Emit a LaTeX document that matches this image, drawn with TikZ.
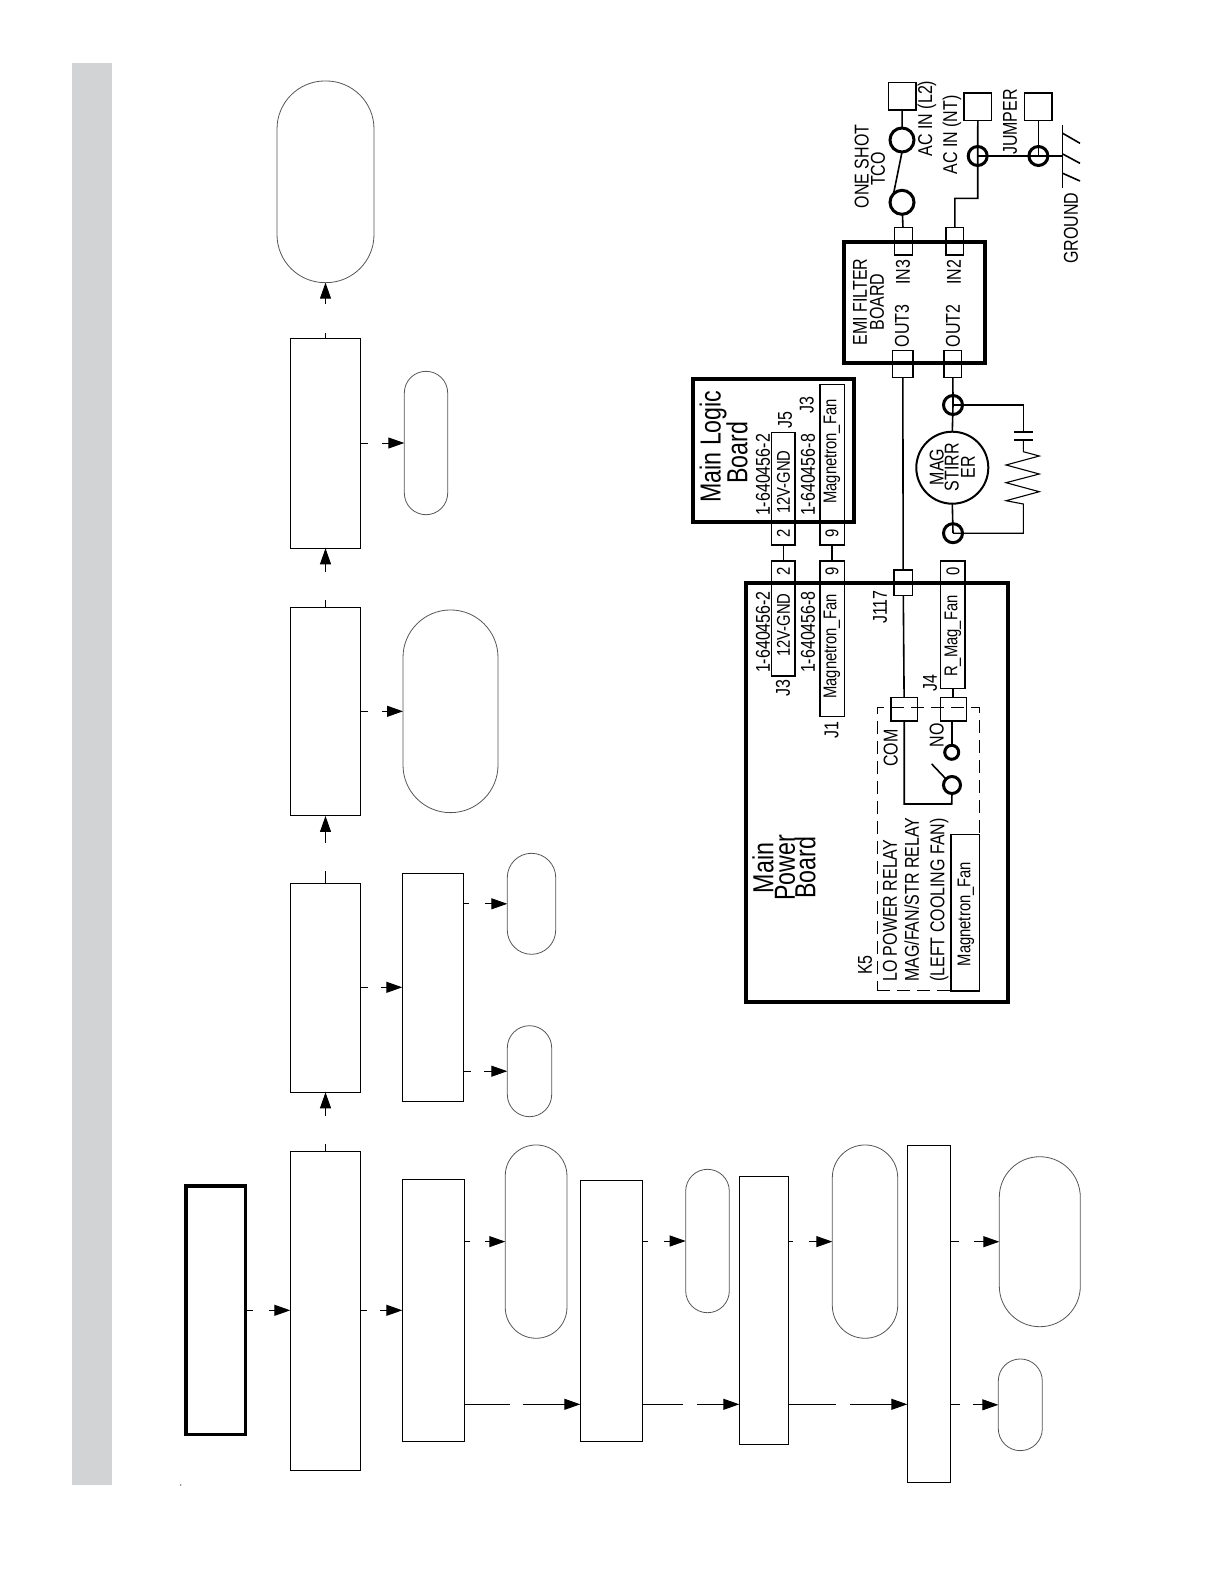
\documentclass[tikz,border=0pt]{standalone}
\usepackage{fontspec}
\setmainfont{Liberation Sans}[FakeStretch=0.8]
\usetikzlibrary{arrows.meta}
\definecolor{bandgray}{HTML}{D1D3D4}
\definecolor{capgray}{HTML}{555555}
\tikzset{
  blockbox/.style={draw,line width=1pt,inner sep=0,outer sep=0},
  capsule/.style={draw=capgray,line width=.8pt,inner sep=0,outer sep=0,rounded corners=#1pt},
  flowarrow/.style={line width=1pt,-{Triangle[length=16pt,width=11pt]}},
  gapped/.style 2 args={dash pattern=on #1pt off #2pt on 400pt},
  board/.style={draw,line width=4pt,inner sep=0,outer sep=0},
  pinbox/.style={draw,line width=1.3pt,inner sep=0,outer sep=0},
  terminal/.style={draw,line width=1.5pt,inner sep=0,outer sep=0,minimum width=27.5pt,minimum height=27.5pt},
  ring/.style={draw,circle,line width=3pt,inner sep=0,outer sep=0,minimum size=#1pt},
  wire/.style={line width=1.6pt},
  lbl/.style={rotate=90,inner sep=0,font=\fontsize{20}{20}\selectfont},
  midlbl/.style={rotate=90,inner sep=0,font=\fontsize{18.5}{18.5}\selectfont},
  biglbl/.style={rotate=90,inner sep=0,font=\fontsize{29}{29}\selectfont}
}
\begin{document}
\begin{tikzpicture}[x=1pt,y=-1pt]
    \useasboundingbox (0,0) rectangle (1224,1584);

    % Side band
    \fill[bandgray] (72,63) rectangle (112,1485);
    \fill (180.7,1485) circle (.6);

    % Flow boxes
    \node[blockbox,line width=3.5pt,minimum width=59.3pt,minimum height=248.7pt] (startbox) at (215.6,1310.3) {};
    \node[blockbox,minimum width=70.4pt,minimum height=319pt] (boxA) at (325.5,1310.8) {};
    \node[blockbox,minimum width=70.4pt,minimum height=209pt] (boxF) at (325.5,987.8) {};
    \node[blockbox,minimum width=70.4pt,minimum height=208.7pt] (boxG) at (325.5,711.6) {};
    \node[blockbox,minimum width=70.4pt,minimum height=210pt] (boxH) at (325.5,443.3) {};
    \node[blockbox,minimum width=61.4pt,minimum height=228pt] (boxC) at (433,987.3) {};
    \node[blockbox,minimum width=62.4pt,minimum height=262pt] (boxB) at (433.5,1310.3) {};
    \node[blockbox,minimum width=62.2pt,minimum height=261pt] (boxJ) at (611.4,1310.8) {};
    \node[blockbox,minimum width=49.4pt,minimum height=268pt] (boxD) at (764,1310.3) {};
    \node[blockbox,minimum width=43pt,minimum height=337pt] (boxE) at (928.8,1313.8) {};

    % Flow end capsules
    \node[capsule=48,minimum width=97pt,minimum height=201.7pt] (capTop) at (325.5,181.8) {};
    \node[capsule=21.7,minimum width=43.4pt,minimum height=143.4pt] (capH) at (426,443) {};
    \node[capsule=47.5,minimum width=95pt,minimum height=202.7pt] (capG) at (450.5,711.3) {};
    \node[capsule=24.2,minimum width=48.4pt,minimum height=101pt] (capC) at (531.5,903.8) {};
    \node[capsule=22.2,minimum width=44.4pt,minimum height=91pt] (capK) at (529.5,1071.2) {};
    \node[capsule=30.8,minimum width=61.7pt,minimum height=193.3pt] (capB) at (536.1,1241.6) {};
    \node[capsule=21.8,minimum width=43.6pt,minimum height=143.4pt] (capJ) at (707.5,1241) {};
    \node[capsule=32.7,minimum width=65.4pt,minimum height=193.3pt] (capD) at (865,1241.6) {};
    \node[capsule=40.5,minimum width=81pt,minimum height=170pt] (capE) at (1039.8,1241.7) {};
    \node[capsule=22,minimum width=44pt,minimum height=91.7pt] (capL) at (1020.3,1404.8) {};
    \coordinate (lowrow) at (0,1404.3);

    % Flow arrows
    \draw[flowarrow,gapped={7.4}{16.3}] (startbox.east) -- (startbox.east -| boxA.west);
    \draw[flowarrow,gapped={6}{13.3}] (boxA.east |- boxB.west) -- (boxB.west);
    \draw[flowarrow,gapped={7}{28.3}] (boxA.north) -- (boxF.south);
    \draw[flowarrow,gapped={12.6}{28}] (boxF.north) -- (boxG.south);
    \draw[flowarrow,gapped={7}{28}] (boxG.north) -- (boxH.south);
    \draw[flowarrow,gapped={5.6}{28.7}] (boxH.north) -- (capTop.south);
    \draw[flowarrow,gapped={7.3}{14.3}] (boxH.east |- capH.west) -- (capH.west);
    \draw[flowarrow,gapped={7.3}{14}] (boxG.east |- capG.west) -- (capG.west);
    \draw[flowarrow,gapped={7.3}{13}] (boxF.east |- boxC.west) -- (boxC.west);
    \draw[flowarrow,gapped={5.3}{16}] (boxC.east |- capC.west) -- (capC.west);
    \draw[flowarrow,gapped={7.3}{13}] (boxC.east |- capK.west) -- (capK.west);
    \draw[flowarrow,gapped={5.3}{15}] (boxB.east |- capB.west) -- (capB.west);
    \draw[flowarrow,gapped={45.3}{12.7}] (boxB.east |- lowrow) -- (boxJ.west |- lowrow);
    \draw[flowarrow,gapped={5.5}{16}] (boxJ.east |- capJ.west) -- (capJ.west);
    \draw[flowarrow,gapped={40.8}{13.7}] (boxJ.east |- lowrow) -- (boxD.west |- lowrow);
    \draw[flowarrow,gapped={4}{16.3}] (boxD.east |- capD.west) -- (capD.west);
    \draw[flowarrow,gapped={47.3}{14}] (boxD.east |- lowrow) -- (boxE.west |- lowrow);
    \draw[flowarrow,gapped={8.7}{15}] (boxE.east |- capE.west) -- (capE.west);
    \draw[flowarrow,gapped={9.7}{13}] (boxE.east |- capL.west) -- (capL.west);

    % Boards
    \node[board,minimum width=141pt,minimum height=121.6pt] (emiboard) at (914.5,302.5) {};
    \node[board,minimum width=160.7pt,minimum height=142.4pt] (logicboard) at (773.6,450.5) {};
    \node[board,minimum width=261.5pt,minimum height=418.4pt] (powerboard) at (876.8,792.5) {};

    % Line side
    \node[terminal] (termL) at (902.2,96.4) {};
    \node[terminal] (termN) at (977.8,107) {};
    \node[terminal] (termJ) at (1038.4,107) {};
    \node[ring=24] (ringA) at (902,140) {};
    \node[ring=24] (ringB) at (902,202.3) {};
    \node[ring=19] (ringN) at (977.7,156) {};
    \node[ring=19] (ringJ) at (1038.4,156) {};
    \node[pinbox,minimum width=18.4pt,minimum height=27.3pt] (pinInT) at (903.5,241.3) {};
    \node[pinbox,minimum width=17.7pt,minimum height=27.3pt] (pinInN) at (954.8,241.3) {};
    \node[pinbox,minimum width=20.3pt,minimum height=26.6pt] (pinOutT) at (902.8,364) {};
    \node[pinbox,minimum width=17.7pt,minimum height=26.6pt] (pinOutN) at (952.8,364) {};
    \coordinate (groundtop) at (1062.5,125);
    \coordinate (groundend) at (1062.5,188);
    \draw[wire] (termL) -- (ringA);
    \draw[wire] (ringA.south) -- (ringB.north west);
    \draw[wire] (ringB) -- (pinInT);
    \draw[wire] (pinInN.north) |- (977.7,198.3) -- (ringN.center) -- (termN.south);
    \draw[wire] (ringN.center) -- (ringJ.center) -- (groundtop |- ringJ.center);
    \draw[wire] (ringJ.center) -- (termJ.south);
    \draw[wire,line width=1pt] (groundtop) -- (groundend);
    \draw[wire] (1062.7,133.3) -- (1080,143.3);
    \draw[wire] (1062.7,154) -- (1080,163.3);
    \draw[wire] (1062.7,173.3) -- (1080,181);

    % Stirrer motor
    \node[ring=19] (ringC) at (953,405) {};
    \node[ring=19] (ringD) at (953,533.2) {};
    \node[draw,circle,line width=2pt,inner sep=0,outer sep=0,minimum size=72pt] (motor) at (952.3,467.7) {};
    \draw[wire] (pinOutN) -- (ringC.center) -- (motor.north);
    \draw[wire] (motor.south) -- (ringD.center);
    \coordinate (capplateA) at (1023.3,431.7);
    \coordinate (capplateB) at (1023.3,440);
    \draw[wire] (ringC.center) -| (capplateA);
    \draw[wire] (1014,431.7) -- (1033,431.7);
    \draw[wire] (1014,440) -- (1033,440);
    \draw[wire,line width=1.1pt] (capplateB) -- (1023.3,451.7) -- (1039.3,456) -- (1006,465) -- (1039.3,474) -- (1006,482.7)
        -- (1039.3,491.7) -- (1006,500.7) -- (1023.3,504) |- (ringD.center);

    % Logic board connectors
    \node[pinbox,minimum width=23.3pt,minimum height=112.3pt] (logicGnd) at (783.4,488.8) {};
    \node[pinbox,minimum width=24.3pt,minimum height=160.7pt] (logicFan) at (832.2,464.6) {};
    \node[pinbox,minimum width=23.3pt,minimum height=115pt] (powerGnd) at (783.4,618.5) {};
    \node[pinbox,minimum width=24.3pt,minimum height=155.7pt] (powerFan) at (832.2,638.8) {};
    \draw[wire] (logicGnd.south) -- (powerGnd.north);
    \draw[wire] (logicFan.south) -- (powerFan.north);

    % Power board contents
    \node[pinbox,minimum width=18.3pt,minimum height=25.7pt] (pinJ) at (903.2,582.8) {};
    \node[pinbox,minimum width=24.3pt,minimum height=127.3pt] (powerMag) at (952.9,624.6) {};
    \node[pinbox,minimum width=26.3pt,minimum height=23.3pt] (relayCom) at (904.2,709.4) {};
    \node[pinbox,minimum width=26pt,minimum height=23.3pt] (relayNo) at (953.7,709.4) {};
    \node[ring=14] (ringNo) at (951.7,752.3) {};
    \node[ring=17] (ringCom) at (952,785) {};
    \node[draw,line width=1pt,dash pattern=on 13pt off 7pt,inner sep=0,outer sep=0,minimum width=101.7pt,minimum height=283.3pt] (relayarea) at (928.3,849.3) {};
    \node[pinbox,minimum width=28.3pt,minimum height=156.7pt] (relayFan) at (965.2,912.7) {};
    \draw[wire] (pinOutT) -- (pinJ);
    \draw[wire] (pinJ) -- (relayCom);
    \draw[wire] (powerMag.south) -- (powerMag.south |- relayNo.north);
    \draw[wire] (relayCom.south) |- (951.7,804) -- (ringCom.south);
    \draw[wire] (ringCom.north west) -- (931.7,764);
    \draw[wire] (ringNo.north) -- (ringNo.north |- relayNo.south);

    % Labels
    \node[lbl] (tOneShot) at (861.7,166.5) {ONE SHOT};
    \node[lbl] (tTco) at (878,169) {TCO};
    \node[lbl] (tAcL) at (927,118.5) {AC IN (L2)};
    \node[lbl] (tAcN) at (952,135) {AC IN (NT)};
    \node[lbl] (tJumper) at (1010,122) {JUMPER};
    \node[lbl] (tGround) at (1071,228) {GROUND};
    \node[lbl] (tEmi) at (860,302) {EMI FILTER};
    \node[lbl] (tBoard) at (877,302) {BOARD};
    \node[lbl] (tInT) at (903,272) {IN3};
    \node[lbl] (tInN) at (954,272) {IN2};
    \node[lbl] (tOutT) at (902,326) {OUT3};
    \node[lbl] (tOutN) at (953,326) {OUT2};
    \node[lbl] (tMotA) at (936.7,467) {MAG};
    \node[lbl] (tMotB) at (951.7,467) {STIRR};
    \node[lbl] (tMotC) at (968,467) {ER};
    \node[biglbl] (tLogicA) at (713,446.5) {Main Logic};
    \node[biglbl] (tLogicB) at (737,453) {Board};
    \node[lbl] (tPartA) at (763,475) {1-640456-2};
    \node[lbl] (tPartB) at (808,475) {1-640456-8};
    \node[lbl] (tJfive) at (785,420) {J5};
    \node[lbl] (tJthree) at (806.7,405) {J3};
    \node[midlbl] (tGndA) at (783.4,482) {12V-GND};
    \node[midlbl] (tFanA) at (832,451.5) {Magnetron\_Fan};
    \node[midlbl] (tTwoA) at (783.4,533) {2};
    \node[midlbl] (tNineA) at (832,533) {9};
    \node[midlbl] (tTwoB) at (783.4,571.7) {2};
    \node[midlbl] (tNineB) at (832,571.7) {9};
    \node[midlbl] (tZero) at (953,571.7) {0};
    \node[lbl] (tPartC) at (763,632) {1-640456-2};
    \node[lbl] (tPartD) at (808,632) {1-640456-8};
    \node[midlbl] (tGndB) at (783.4,625) {12V-GND};
    \node[midlbl] (tFanB) at (832,646.5) {Magnetron\_Fan};
    \node[midlbl] (tMagFan) at (953,636) {R\_Mag\_Fan};
    \node[lbl] (tJtwo) at (783,688) {J3};
    \node[lbl] (tJone) at (831.7,730) {J1};
    \node[lbl] (tJfour) at (930,683) {J4};
    \node[lbl] (tJseven) at (880,607) {J117};
    \node[lbl] (tCom) at (890.7,748) {COM};
    \node[lbl] (tNo) at (936.7,735) {NO};
    \node[biglbl] (tPowerA) at (763,868) {Main};
    \node[biglbl] (tPowerB) at (785,868) {Power};
    \node[biglbl] (tPowerC) at (805,868) {Board};
    \node[lbl] (tKfive) at (865,965) {K5};
    \node[lbl,anchor=west] (tRelayA) at (890,982) {LO POWER RELAY};
    \node[lbl,anchor=west] (tRelayB) at (911.7,982) {MAG/FAN/STR RELAY};
    \node[lbl,anchor=west] (tRelayC) at (939.3,982) {(LEFT COOLING FAN)};
    \node[midlbl] (tFanC) at (966,914) {Magnetron\_Fan};
\end{tikzpicture}
\end{document}
